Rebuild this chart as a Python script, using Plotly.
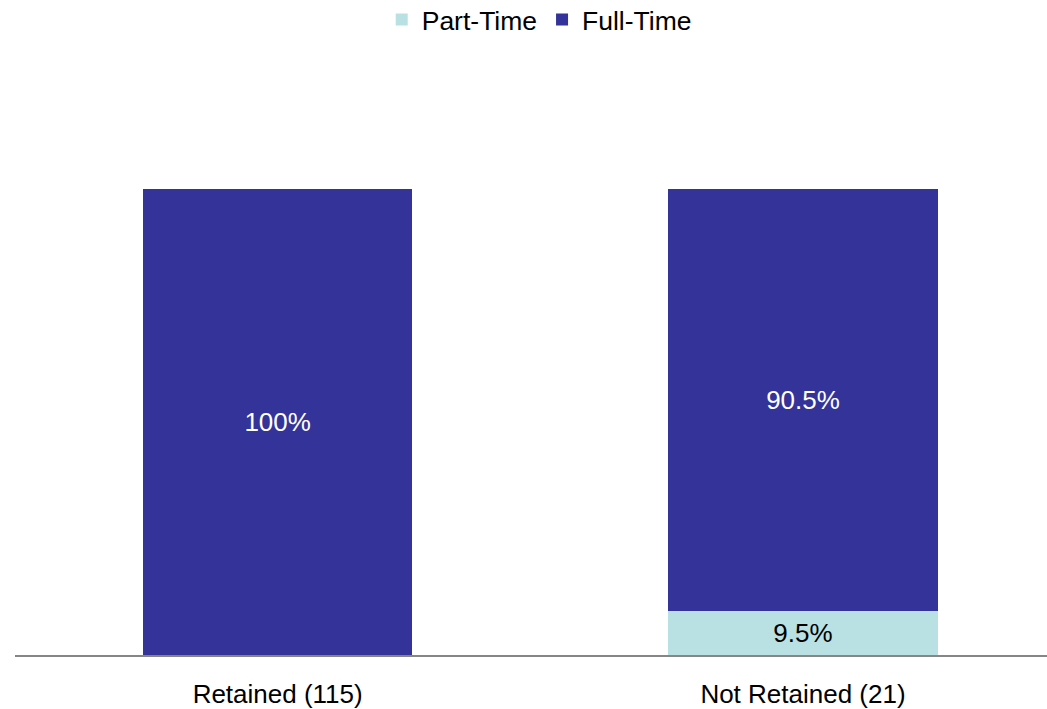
import plotly.graph_objects as go

categories = ["Retained (115)", "Not Retained (21)"]
part_time = [0, 9.5]
full_time = [100, 90.5]

series_names = ["Part-Time", "Full-Time"]
series_colors = ["#B9E0E3", "#333399"]
text_colors = ["#000000", "#FFFFFF"]

FONT = "Liberation Sans, Arial, sans-serif"


def pct_labels(values):
    return [f"{v:g}%" if v > 0 else "" for v in values]


fig = go.Figure()
for name, vals, color, tcolor in zip(series_names, [part_time, full_time], series_colors, text_colors):
    fig.add_trace(go.Bar(
        x=categories,
        y=vals,
        name=name,
        marker=dict(color=color, line=dict(width=0)),
        text=pct_labels(vals),
        textposition="inside",
        insidetextanchor="middle",
        textangle=0,
        textfont=dict(color=tcolor, size=26, family=FONT),
        width=0.513,
        hoverinfo="skip",
    ))

fig.update_layout(
    barmode="stack",
    width=1047,
    height=709,
    margin=dict(l=15, r=0, t=96, b=54, autoexpand=False),
    paper_bgcolor="white",
    plot_bgcolor="white",
    font=dict(family=FONT, size=26, color="#000000"),
    showlegend=True,
    legend=dict(
        orientation="h",
        traceorder="normal",
        xref="container",
        yref="container",
        x=0.515,
        xanchor="center",
        y=0.972,
        yanchor="middle",
        font=dict(size=26.5),
        itemclick=False,
    ),
    xaxis=dict(
        range=[-0.5, 1.4645],
        showgrid=False,
        zeroline=False,
        showline=True,
        linecolor="#868686",
        linewidth=2,
        ticks="",
        tickangle=0,
        ticklabelstandoff=15,
        fixedrange=True,
    ),
    yaxis=dict(
        range=[0, 120],
        visible=False,
        fixedrange=True,
    ),
)

fig.write_html("out.html")
